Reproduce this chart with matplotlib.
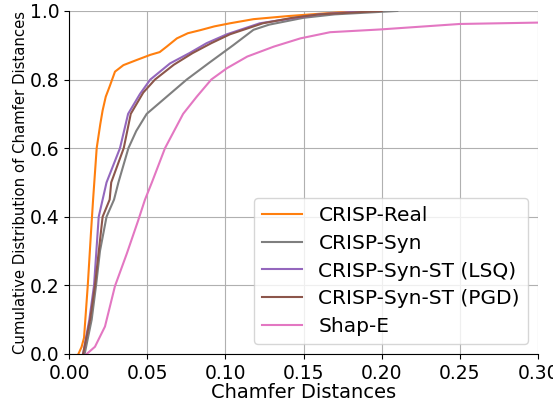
import numpy as np
import matplotlib as mpl
mpl.use('Agg')
import matplotlib.pyplot as plt

# values: (chamfer distance, cumulative fraction)
real_x = [0.0060, 0.0080, 0.0096, 0.0120, 0.0140, 0.0154, 0.0177, 0.0200, 0.0215, 0.0235,
          0.0260, 0.0294, 0.0348, 0.0433, 0.0520, 0.0580, 0.0625, 0.0690, 0.0760, 0.0840,
          0.0930, 0.1030, 0.1180, 0.1400, 0.1700, 0.1850, 0.2080]
real_y = [0.000, 0.020, 0.047, 0.200, 0.350, 0.450, 0.600, 0.670, 0.710, 0.750,
          0.780, 0.823, 0.842, 0.857, 0.872, 0.880, 0.896, 0.920, 0.935, 0.944,
          0.955, 0.964, 0.976, 0.985, 0.995, 1.000, 1.000]

syn_x = [0.0100, 0.0145, 0.0173, 0.0198, 0.0240, 0.0288, 0.0316, 0.0380, 0.0430, 0.0497,
         0.0625, 0.0753, 0.0900, 0.1050, 0.1180, 0.1280, 0.1500, 0.1700, 0.2100]
syn_y = [0.000, 0.100, 0.200, 0.300, 0.400, 0.450, 0.500, 0.600, 0.650, 0.700,
         0.750, 0.800, 0.850, 0.900, 0.945, 0.960, 0.980, 0.990, 1.000]

lsq_x = [0.0090, 0.0130, 0.0160, 0.0190, 0.0215, 0.0240, 0.0326, 0.0378, 0.0454, 0.0520,
         0.0646, 0.0770, 0.0880, 0.1010, 0.1220, 0.1450, 0.1600, 0.1900]
lsq_y = [0.000, 0.100, 0.200, 0.400, 0.450, 0.500, 0.600, 0.700, 0.758, 0.800,
         0.847, 0.877, 0.906, 0.932, 0.964, 0.980, 0.990, 1.000]

pgd_x = [0.0090, 0.0135, 0.0166, 0.0215, 0.0260, 0.0270, 0.0350, 0.0395, 0.0475, 0.0550,
         0.0670, 0.0790, 0.0910, 0.1030, 0.1240, 0.1430, 0.1600, 0.2000]
pgd_y = [0.000, 0.100, 0.200, 0.400, 0.450, 0.500, 0.600, 0.700, 0.762, 0.800,
         0.843, 0.877, 0.906, 0.932, 0.964, 0.980, 0.990, 1.000]

shape_x = [0.0113, 0.0166, 0.0230, 0.0294, 0.0370, 0.0443, 0.0486, 0.0530, 0.0614, 0.0730,
           0.0817, 0.0910, 0.1010, 0.1140, 0.1310, 0.1480, 0.1670, 0.1990, 0.2500, 0.3000]
shape_y = [0.000, 0.021, 0.080, 0.198, 0.293, 0.390, 0.450, 0.500, 0.600, 0.700,
           0.750, 0.800, 0.833, 0.867, 0.896, 0.920, 0.938, 0.946, 0.962, 0.966]

labels = ['CRISP-Real', 'CRISP-Syn', 'CRISP-Syn-ST (LSQ)', 'CRISP-Syn-ST (PGD)', 'Shap-E']
colors = ['C1', 'C7', 'C4', 'C5', 'C6']
series = [(real_x, real_y), (syn_x, syn_y), (lsq_x, lsq_y), (pgd_x, pgd_y), (shape_x, shape_y)]

fig = plt.figure(figsize=(5.53, 4.05), dpi=100)
ax = fig.add_axes([0.1248, 0.126, 0.8481, 0.847])

for (xs, ys), lab, col in zip(series, labels, colors):
    ax.plot(xs, ys, color=col, lw=1.5, label=lab)

ax.set_xlim(0, 0.30)
ax.set_ylim(0, 1.0)
ax.set_xticks(np.arange(0, 0.31, 0.05))
ax.set_yticks(np.arange(0, 1.01, 0.2))
ax.grid(True, color='#b0b0b0', lw=0.8)
ax.set_axisbelow(True)
for s in ['top', 'right']:
    ax.spines[s].set_visible(False)
ax.tick_params(labelsize=13.5)
ax.set_xlabel('Chamfer Distances', fontsize=14, labelpad=0)
ax.set_ylabel('Cumulative Distribution of Chamfer Distances', fontsize=10.7, labelpad=1)
ax.legend(loc='lower right', fontsize=14.5, labelspacing=0.43)

fig.savefig('out.png', dpi=100)
